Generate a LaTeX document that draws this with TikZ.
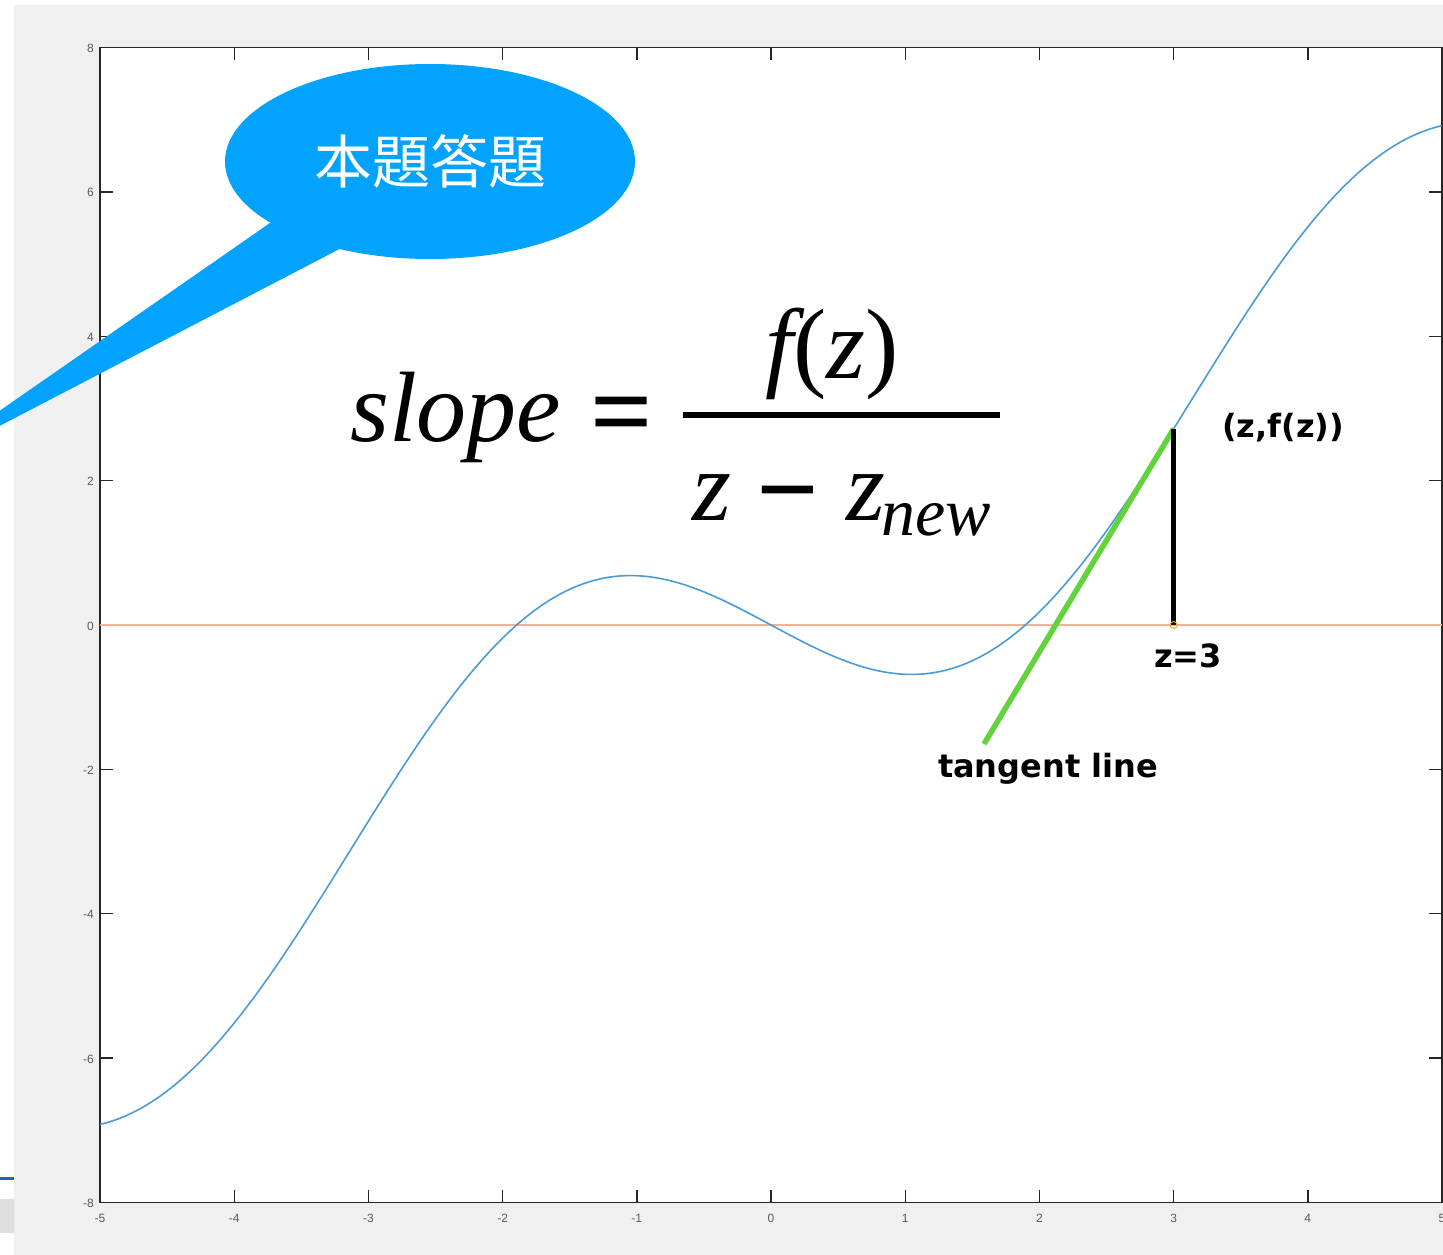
\documentclass[tikz,border=0pt]{standalone}
\usepackage{fontspec}
\setmainfont{Liberation Serif}
\setsansfont{DejaVu Sans}
\newfontfamily\cjkfont{Noto Sans CJK TC}
\newfontfamily\tickfont{Liberation Sans}
\usetikzlibrary{shapes.geometric}
\definecolor{plotblue}{HTML}{4A9BD6}
\definecolor{zeroorange}{HTML}{F2B29A}
\definecolor{markorange}{HTML}{EDB120}
\definecolor{tangentgreen}{HTML}{62D33C}
\definecolor{bubbleblue}{HTML}{02A3FE}
\definecolor{figgray}{HTML}{F0F0F0}
\definecolor{axisgray}{HTML}{262626}
\definecolor{ticktext}{HTML}{5A5A5A}
\definecolor{winblue}{HTML}{2A62B0}
\tikzset{
  axisline/.style={draw=axisgray,line width=1.4},
  ticklbl/.style={text=ticktext,font=\tickfont\fontsize{12}{12}\selectfont,inner sep=0},
  note/.style={font=\sffamily\bfseries\fontsize{32}{32}\selectfont,inner sep=0,anchor=base},
  eqtext/.style={font=\fontsize{100}{100}\selectfont\itshape,inner sep=0,anchor=base west},
  eqsym/.style={font=\fontsize{110}{110}\selectfont\bfseries,inner sep=0,anchor=base},
  bubble/.style={ellipse,fill=bubbleblue,text=white,inner sep=0,minimum width=410,minimum height=195,
    font=\cjkfont\fontsize{58}{58}\selectfont}
}
\begin{document}
\begin{tikzpicture}[x=1pt,y=-1pt]
\useasboundingbox (0,0) rectangle (1443,1255);
\clip (0,0) rectangle (1443,1255);
\fill[figgray] (14,5) rectangle (1443,1255);
\fill[figgray!85!gray] (0,1199) rectangle (14,1233);
\draw[winblue,line width=3] (0,1178.5) -- (14,1178.5);
\fill[white] (100,47) rectangle (1442,1202);
\begin{scope}[shift={(771,625)},x=134.2pt,y=72.19pt]
  \foreach \i in {-5,...,5} {
    \draw[axisline] (\i,-8) -- ++(0,13pt) (\i,8) -- ++(0,-13pt);
    \node[ticklbl] (xl\i) at (\i,-8) [yshift=-16pt] {\i};
  }
  \foreach \j in {-8,-6,...,8} {
    \draw[axisline] (-5,\j) -- ++(13pt,0) (5,\j) -- ++(-13pt,0);
    \node[ticklbl,anchor=east] (yl\j) at (-5,\j) [xshift=-6pt,yshift=-1pt] {\j};
  }
  \draw[axisline] (-5,-8) rectangle (5,8);
  \draw[zeroorange,line width=2.6] (-5,0) -- (5,0);
  \draw[plotblue,line width=1.6] plot[domain=-5:5,samples=201,smooth] (\x,{\x-2*sin(\x r)});
  \coordinate (zpt) at (3,0);
  \coordinate (fzpt) at (3,{3-2*sin(3 r)});
  \coordinate (tanend) at (1.587,-1.648);
  \draw[tangentgreen,line width=5.5] (fzpt) -- (tanend);
  \draw[black,line width=4.5] (zpt) -- (fzpt);
  \draw[markorange,line width=1] (zpt) circle (3.5pt);
\end{scope}
\node[note,anchor=base west] (fzlbl) at (1222,437) {(z,f(z))};
\node[note] (zlbl) at (1188,667) {z=3};
\node[note] (tanlbl) at (1048,777) {tangent line};
\node[eqtext] (slope) at (350,441) {slope};
\node[eqsym] (eqsign) at (621.5,448) {=};
\draw[line width=6] (683,415) -- (1000,415);
\node[eqtext,anchor=base] (numer) at (832,378) {f\upshape(\itshape z\upshape)};
\node[eqtext] (denz) at (692,520) {z};
\node[eqsym] (minus) at (787.5,526) {−};
\node[eqtext] (denznew) at (846,520) {z\kern-4pt\raisebox{-15pt}{\fontsize{68}{68}\selectfont new}};
\node[bubble] (callout) at (430,161.5) {本題答題};
\coordinate (tailtip) at (-87,471);
\fill[bubbleblue] (callout.201) -- (tailtip) -- (callout.224) -- cycle;
\end{tikzpicture}
\end{document}
